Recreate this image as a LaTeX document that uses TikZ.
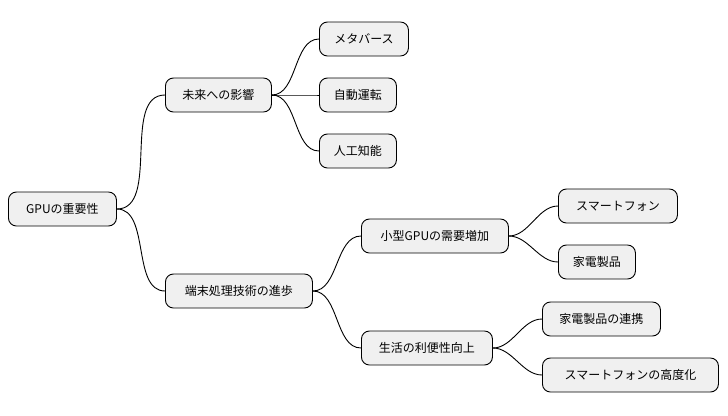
\documentclass[tikz,border=0pt]{standalone}
\usepackage{fontspec}
\setmainfont{Noto Sans CJK JP}
\begin{document}
\begin{tikzpicture}[x=1pt,y=-1pt,
  box/.style={draw=black,line width=0.9pt,fill=black!6,rounded corners=8pt,anchor=west,minimum height=34pt,minimum width=#1,inner sep=0pt,font=\fontsize{12}{14}\selectfont},
  link/.style={line width=0.9pt,out=0,in=180,looseness=0.9}]
\useasboundingbox (0,0) rectangle (728,415);
\node[box=108pt] (r) at (8,209) {GPUの重要性};
\node[box=106pt] (f) at (165,95) {未来への影響};
\node[box=89pt] (f1) at (319,39) {メタバース};
\node[box=77pt] (f2) at (319,95) {自動運転};
\node[box=77pt] (f3) at (319,151) {人工知能};
\node[box=147pt] (t) at (165,291) {端末処理技術の進歩};
\node[box=147pt] (s) at (361,236) {小型GPUの需要増加};
\node[box=119pt] (s1) at (558,206) {スマートフォン};
\node[box=77pt] (s2) at (558,262) {家電製品};
\node[box=131pt] (l) at (361,348) {生活の利便性向上};
\node[box=118pt] (l1) at (542,319) {家電製品の連携};
\node[box=176pt] (l2) at (542,375) {スマートフォンの高度化};
\foreach \a/\b in {r/f,r/t,f/f1,f/f2,f/f3,t/s,t/l,s/s1,s/s2,l/l1,l/l2}
  \draw[link] (\a.east) to (\b.west);
\end{tikzpicture}
\end{document}
